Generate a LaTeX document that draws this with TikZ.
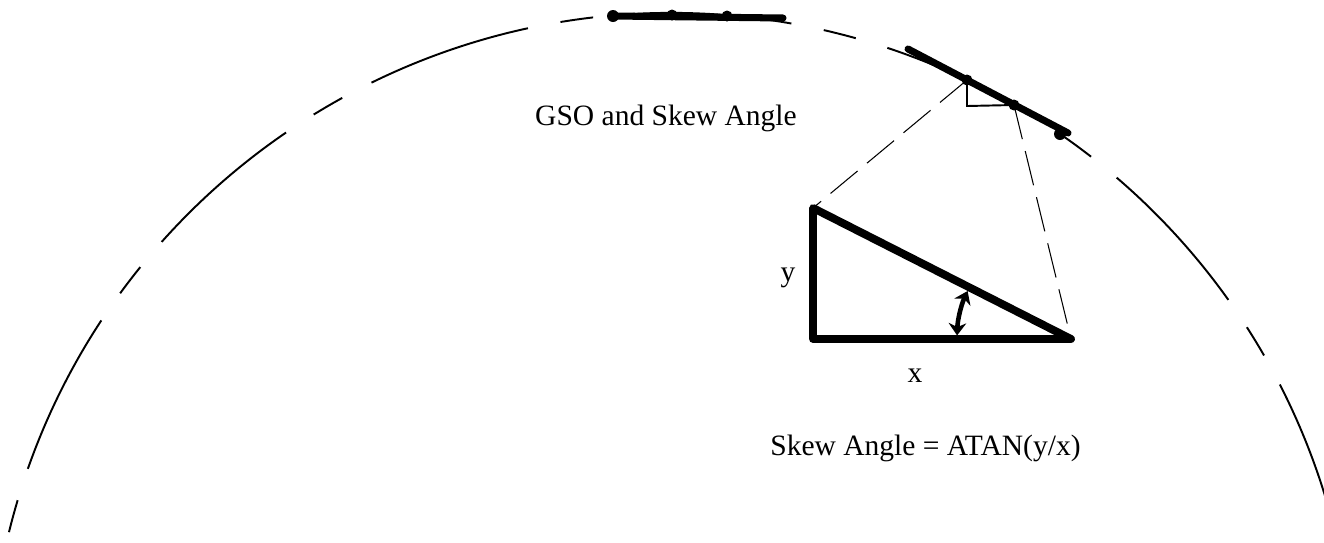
\documentclass[tikz,border=0pt]{standalone}
\usepackage{fontspec}
\setmainfont{Liberation Serif}
\usetikzlibrary{arrows.meta}

\tikzset{
  orbit/.style={line width=1.1pt,
    dash pattern=on 94.5pt off 18.8pt on 18.8pt off 18.8pt, dash phase=107.5pt},
  sat/.style={line width=4pt, line cap=round},
  satdot/.style={fill=black},
  proj/.style={line width=0.6pt, dash pattern=on 20pt off 7pt},
  tri/.style={line width=4.5pt, line join=round, line cap=round},
  angarrow/.style={line width=2.6pt, {Stealth[length=7pt,width=10pt]}-{Stealth[length=7pt,width=10pt]}},
  lbl/.style={font=\fontsize{16.8}{20}\selectfont, inner sep=0pt, anchor=base},
}

\begin{document}
\begin{tikzpicture}[x=0.02cm, y=-0.02cm]

  \clip (0,0) rectangle (1324,542);

  % Orbit (dashed arc of a circle)
  \coordinate (earth) at (672,696);
  \draw[orbit] (earth) ++(193.03:683) arc[start angle=193.03, end angle=346.97, radius=683];

  % Satellites near the top of the arc
  \coordinate (ga) at (613,16);
  \coordinate (gb) at (672,15);
  \coordinate (gc) at (727,16);
  \coordinate (gd) at (783,18);
  \draw[sat] (ga) -- (gd);
  \fill[satdot] (ga) circle[radius=6];
  \foreach \p in {gb,gc}
    \fill[satdot] (\p) circle[radius=5.5];

  % Satellites on the right, with the skew
  \coordinate (sa) at (908,49);
  \coordinate (sb) at (967,80);
  \coordinate (sc) at (1014,105);
  \coordinate (sd) at (1068,133);
  \coordinate (se) at (1060,134);
  \coordinate (sk) at (967,106);
  \draw[sat] (sa) -- (sd);
  \foreach \p in {sb,sc}
    \fill[satdot] (\p) circle[radius=5.5];
  \fill[satdot] (se) circle[radius=6];
  \draw[line width=1.1pt] (sb) -- (sk) -- (sc);

  % Enlarged triangle
  \coordinate (ta) at (813,208);
  \coordinate (tb) at (813,339);
  \coordinate (tc) at (1071,339);
  \draw[tri] (ta) -- (tb) -- (tc) -- cycle;

  % Projection lines
  \draw[proj] (sb) -- (ta);
  \draw[proj] (sc) -- (tc);

  % Skew angle
  \draw[angarrow] (tc) ++(181.8:114) arc[start angle=181.8, end angle=204.9, radius=114];

  % Labels
  \node[lbl] (title) at (666,125) {GSO and Skew Angle};
  \node[lbl] (ylbl)  at (788,281) {y};
  \node[lbl] (xlbl)  at (915,382) {x};
  \node[lbl, anchor=base west] (formula) at (770,455) {Skew Angle = ATAN(y/x)};

\end{tikzpicture}
\end{document}
